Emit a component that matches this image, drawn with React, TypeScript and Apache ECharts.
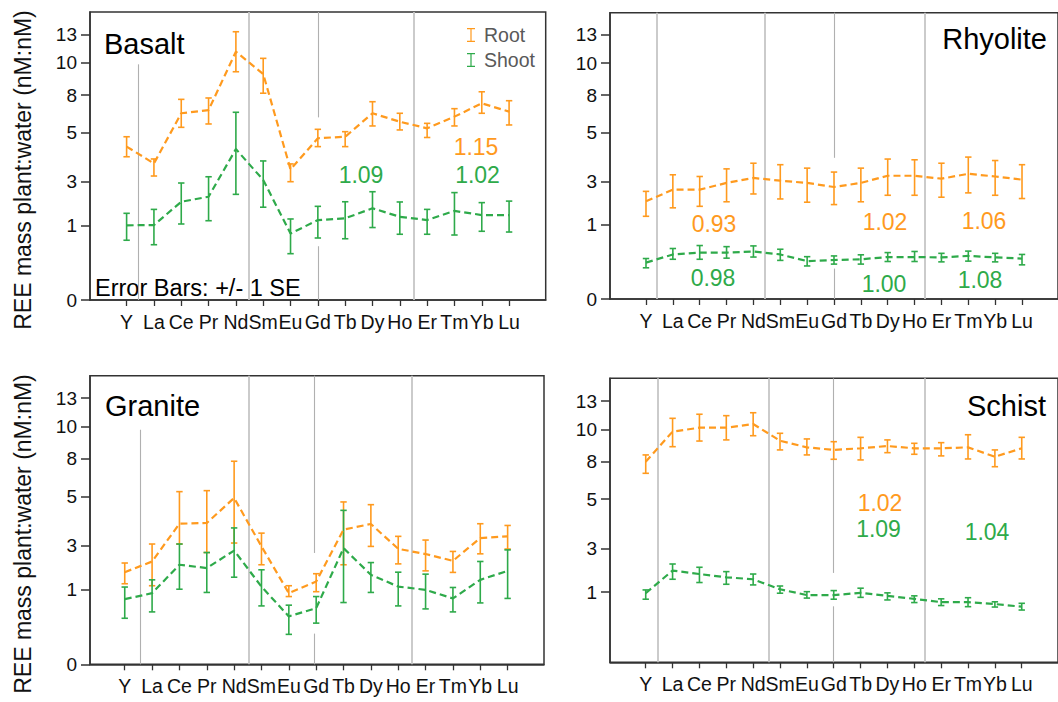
import React, { useEffect, useRef } from "react";
import * as echarts from "echarts";

// ---------- categories & axis ticks ----------
const ELEMENTS = ["Y", "La", "Ce", "Pr", "Nd", "Sm", "Eu", "Gd", "Tb", "Dy", "Ho", "Er", "Tm", "Yb", "Lu"];
const TICK_VALUES = [0, 1, 3, 5, 8, 10, 13];
// positions of the tick values on the (non-linear) y scale, in scale units
const TICK_POSITIONS = [0, 74.7, 118.3, 167.7, 205, 237.3, 265.7];

// ---------- data (ratio plant:water), mean, lower and upper bar ends ----------
const BASALT_ROOT = [4.42, 3.74, 6.53, 6.79, 11.16, 9.3, 3.5, 4.76, 4.82, 6.53, 5.85, 5.32, 6.26, 7.33, 6.66];
const BASALT_ROOT_LO = [4.01, 3.23, 5.4, 5.67, 9.44, 8.11, 3.0, 4.42, 4.42, 5.51, 5.19, 4.79, 5.51, 6.53, 5.59];
const BASALT_ROOT_HI = [4.82, 3.92, 7.65, 7.76, 13.27, 10.46, 3.72, 5.24, 5.05, 7.46, 6.53, 5.72, 6.9, 8.2, 7.54];
const BASALT_SHOOT = [1.0, 1.01, 2.08, 2.31, 4.32, 3.07, 0.89, 1.24, 1.32, 1.78, 1.39, 1.24, 1.66, 1.47, 1.47];
const BASALT_SHOOT_LO = [0.8, 0.74, 1.06, 1.21, 2.42, 1.83, 0.62, 0.83, 0.82, 0.97, 0.88, 0.88, 0.87, 0.92, 0.91];
const BASALT_SHOOT_HI = [1.55, 1.73, 2.94, 3.2, 6.61, 3.84, 1.29, 1.87, 2.08, 2.54, 2.07, 1.73, 2.5, 2.04, 2.11];

const RHYOLITE_ROOT = [2.08, 2.62, 2.62, 2.93, 3.14, 3.03, 2.93, 2.74, 2.93, 3.23, 3.23, 3.11, 3.31, 3.2, 3.07];
const RHYOLITE_ROOT_LO = [1.39, 1.78, 1.85, 2.06, 2.42, 2.19, 2.04, 1.93, 2.06, 2.36, 2.36, 2.27, 2.47, 2.36, 2.21];
const RHYOLITE_ROOT_HI = [2.54, 3.27, 3.2, 3.51, 3.74, 3.68, 3.54, 3.38, 3.54, 3.91, 3.88, 3.74, 3.99, 3.85, 3.68];
const RHYOLITE_SHOOT = [0.49, 0.6, 0.625, 0.625, 0.64, 0.6, 0.51, 0.525, 0.535, 0.565, 0.565, 0.56, 0.58, 0.56, 0.545];
const RHYOLITE_SHOOT_LO = [0.42, 0.535, 0.535, 0.55, 0.565, 0.52, 0.445, 0.47, 0.47, 0.505, 0.505, 0.5, 0.51, 0.5, 0.46];
const RHYOLITE_SHOOT_HI = [0.545, 0.68, 0.72, 0.705, 0.715, 0.67, 0.57, 0.58, 0.595, 0.625, 0.64, 0.615, 0.645, 0.615, 0.6];

const GRANITE_ROOT = [1.79, 2.28, 3.89, 3.92, 4.93, 2.97, 0.95, 1.36, 3.65, 3.88, 2.86, 2.62, 2.31, 3.31, 3.38];
const GRANITE_ROOT_LO = [1.26, 1.17, 3.07, 2.69, 3.11, 2.13, 0.905, 0.97, 2.13, 2.97, 2.17, 1.85, 1.78, 2.63, 2.85];
const GRANITE_ROOT_HI = [2.21, 3.07, 5.37, 5.45, 7.81, 3.51, 1.17, 1.72, 4.77, 4.66, 3.38, 3.23, 2.74, 3.89, 3.82];
const GRANITE_SHOOT = [0.87, 0.95, 2.13, 1.98, 2.78, 1.13, 0.64, 0.75, 2.89, 1.67, 1.13, 0.995, 0.88, 1.44, 1.85];
const GRANITE_SHOOT_LO = [0.615, 0.7, 1.01, 0.96, 1.56, 0.78, 0.4, 0.55, 0.825, 0.96, 0.78, 0.74, 0.7, 0.82, 0.88];
const GRANITE_SHOOT_HI = [1.11, 1.44, 3.07, 2.69, 3.72, 1.9, 0.79, 0.905, 4.43, 2.23, 1.79, 1.7, 1.09, 2.28, 2.81];

const SCHIST_ROOT = [8.01, 9.87, 10.2, 10.2, 10.59, 9.31, 8.9, 8.74, 8.84, 8.98, 8.84, 8.84, 8.9, 8.32, 8.84];
const SCHIST_ROOT_LO = [7.08, 8.94, 9.29, 9.36, 9.62, 8.74, 8.43, 8.16, 8.12, 8.57, 8.47, 8.37, 8.18, 7.61, 8.18];
const SCHIST_ROOT_HI = [8.43, 11.19, 11.62, 11.47, 11.78, 9.77, 9.42, 9.25, 9.52, 9.36, 9.15, 9.19, 9.68, 8.74, 9.52];
const SCHIST_SHOOT = [0.985, 1.99, 1.83, 1.68, 1.59, 1.13, 0.96, 0.96, 0.99, 0.95, 0.91, 0.865, 0.865, 0.84, 0.805];
const SCHIST_SHOOT_LO = [0.905, 1.59, 1.44, 1.36, 1.33, 0.985, 0.92, 0.905, 0.93, 0.895, 0.86, 0.82, 0.805, 0.8, 0.76];
const SCHIST_SHOOT_HI = [1.1, 2.29, 2.14, 1.94, 1.83, 1.28, 1.02, 1.07, 1.18, 0.99, 0.95, 0.91, 0.925, 0.87, 0.85];

// group separators: [x (element index), from value (null = bottom), to value (null = top)]
const BASALT_SEP = [[0.44, null, 9.9], [4.48, null, null], [7.0, null, 0.72], [7.0, 6.2, null], [10.51, null, null]];
const RHYOLITE_SEP = [[0.39, null, null], [4.43, null, null], [7.0, null, 0.41], [7.0, 3.96, null], [10.39, null, null]];
const GRANITE_SEP = [[0.56, null, 9.8], [4.52, null, null], [6.94, null, 0.41], [6.94, 2.67, null], [10.5, null, null]];
const SCHIST_SEP = [[0.43, null, null], [4.57, null, null], [7.0, null, 0.81], [7.0, 1.88, null], [10.4, null, null]];

const PANEL_NAMES = ["Basalt", "Rhyolite", "Granite", "Schist"];
const Y_AXIS_NAME = "REE mass plant:water (nM:nM)";

// ---------- styling / layout ----------
const ORANGE = "#FF9A1E";
const GREEN = "#2EAA4A";
const FONT = "'Liberation Sans', Arial, Helvetica, sans-serif";
const FRAME = "#333";

const LAYOUT = [
  { left: 90, top: 12, width: 455.7, height: 288, xMin: -1.34, xMax: 15.34, yMinValue: 0, yTop: 288, showName: true },
  { left: 610, top: 12.7, width: 455.7, height: 286.3, xMin: -1.34, xMax: 15.34, yMinValue: 0, yTop: 288, showName: false },
  { left: 90, top: 375.7, width: 454, height: 288.6, xMin: -1.27, xMax: 15.33, yMinValue: 0, yTop: 288, showName: true },
  { left: 610, top: 378.3, width: 455.7, height: 284, xMin: -1.33, xMax: 15.35, yMinValue: 0.06, yTop: 288.6, showName: false },
];

const TITLE_POS = [
  { left: 104, top: 29.5 },
  { right: 11, top: 24.5 },
  { left: 105, top: 391 },
  { right: 12, top: 391 },
];

const ANNOTATIONS = [
  { text: "1.15", x: 476, y: 147, color: ORANGE },
  { text: "1.09", x: 361, y: 175, color: GREEN },
  { text: "1.02", x: 477.5, y: 174.5, color: GREEN },
  { text: "0.93", x: 714, y: 223.5, color: ORANGE },
  { text: "0.98", x: 713, y: 277.7, color: GREEN },
  { text: "1.02", x: 885, y: 222, color: ORANGE },
  { text: "1.00", x: 884, y: 284.3, color: GREEN },
  { text: "1.06", x: 984, y: 221, color: ORANGE },
  { text: "1.08", x: 980, y: 280, color: GREEN },
  { text: "1.02", x: 880, y: 502.5, color: ORANGE },
  { text: "1.09", x: 878.5, y: 528.5, color: GREEN },
  { text: "1.04", x: 987, y: 532, color: GREEN },
];

function toAxis(v: number): number {
  const n = TICK_VALUES.length;
  for (let i = 0; i < n - 1; i++) {
    if (v <= TICK_VALUES[i + 1] || i === n - 2) {
      const t = (v - TICK_VALUES[i]) / (TICK_VALUES[i + 1] - TICK_VALUES[i]);
      return TICK_POSITIONS[i] + t * (TICK_POSITIONS[i + 1] - TICK_POSITIONS[i]);
    }
  }
  return 0;
}

const PANELS = [
  { root: [BASALT_ROOT, BASALT_ROOT_LO, BASALT_ROOT_HI], shoot: [BASALT_SHOOT, BASALT_SHOOT_LO, BASALT_SHOOT_HI], sep: BASALT_SEP },
  { root: [RHYOLITE_ROOT, RHYOLITE_ROOT_LO, RHYOLITE_ROOT_HI], shoot: [RHYOLITE_SHOOT, RHYOLITE_SHOOT_LO, RHYOLITE_SHOOT_HI], sep: RHYOLITE_SEP },
  { root: [GRANITE_ROOT, GRANITE_ROOT_LO, GRANITE_ROOT_HI], shoot: [GRANITE_SHOOT, GRANITE_SHOOT_LO, GRANITE_SHOOT_HI], sep: GRANITE_SEP },
  { root: [SCHIST_ROOT, SCHIST_ROOT_LO, SCHIST_ROOT_HI], shoot: [SCHIST_SHOOT, SCHIST_SHOOT_LO, SCHIST_SHOOT_HI], sep: SCHIST_SEP },
];

function errorBarRender(color: string) {
  return (params: any, api: any) => {
    const x = api.value(0);
    const a = api.coord([x, api.value(1)]);
    const b = api.coord([x, api.value(2)]);
    const style = { stroke: color, lineWidth: 1.6, fill: null };
    const w = 3.2;
    return {
      type: "group",
      children: [
        { type: "line", shape: { x1: a[0], y1: a[1], x2: b[0], y2: b[1] }, style },
        { type: "line", shape: { x1: a[0] - w, y1: a[1], x2: a[0] + w, y2: a[1] }, style },
        { type: "line", shape: { x1: b[0] - w, y1: b[1], x2: b[0] + w, y2: b[1] }, style },
      ],
    };
  };
}

function buildOption() {
  const series: any[] = [];
  PANELS.forEach((p, i) => {
    const lay = LAYOUT[i];
    const yMinAxis = toAxis(lay.yMinValue);
    const sepData = p.sep.map(([x, from, to]: any) => {
      if (from === null && to === null) {
        return { xAxis: x, lineStyle: { color: "#c6c6c6", width: 1.8, type: "solid" } };
      }
      return [
        { coord: [x, from === null ? yMinAxis : toAxis(from)], lineStyle: { color: "#b0b0b0", width: 1.1, type: "solid" } },
        { coord: [x, to === null ? lay.yTop : toAxis(to)] },
      ];
    });
    const groups: [string, string, number[][]][] = [
      ["Root", ORANGE, p.root],
      ["Shoot", GREEN, p.shoot],
    ];
    groups.forEach(([name, color, arr], k) => {
      const [mean, lo, hi] = arr;
      series.push({
        type: "custom",
        name,
        xAxisIndex: i,
        yAxisIndex: i,
        color,
        renderItem: errorBarRender(color),
        encode: { x: 0, y: [1, 2] },
        data: lo.map((l, j) => [j, toAxis(l), toAxis(hi[j])]),
        z: 3,
        silent: true,
      });
      series.push({
        type: "line",
        name,
        xAxisIndex: i,
        yAxisIndex: i,
        color,
        symbol: "none",
        lineStyle: { color, width: 2.2, type: [7, 4] },
        data: mean.map((v, j) => [j, toAxis(v)]),
        z: 4,
        silent: true,
        markLine:
          k === 0
            ? { silent: true, symbol: ["none", "none"], label: { show: false }, data: sepData, z: 1 }
            : undefined,
      });
    });
  });

  return {
    animation: false,
    textStyle: { fontFamily: FONT },
    title: PANEL_NAMES.map((t, i) => ({
      text: t,
      ...TITLE_POS[i],
      padding: 0,
      textStyle: { fontSize: 29, fontWeight: "normal", color: "#000", fontFamily: FONT },
    })),
    legend: {
      data: ["Root", "Shoot"],
      orient: "vertical",
      left: 467,
      top: 25,
      itemWidth: 8,
      itemHeight: 14,
      itemGap: 5,
      padding: 0,
      icon: "path://M0,0L8,0L8,1.2L4.6,1.2L4.6,12.8L8,12.8L8,14L0,14L0,12.8L3.4,12.8L3.4,1.2L0,1.2Z",
      selectedMode: false,
      textStyle: { fontSize: 19.5, color: "#595959", lineHeight: 20, padding: [0, 0, 0, 4], fontFamily: FONT },
    },
    grid: LAYOUT.map((g) => ({
      left: g.left,
      top: g.top,
      width: g.width,
      height: g.height,
      show: true,
      borderColor: FRAME,
      borderWidth: 1.5,
      backgroundColor: "transparent",
    })),
    xAxis: LAYOUT.map((g, i) => ({
      type: "value",
      gridIndex: i,
      min: g.xMin,
      max: g.xMax,
      axisLine: { show: true, onZero: false, lineStyle: { color: FRAME, width: 1.5 } },
      splitLine: { show: false },
      axisTick: {
        show: true,
        length: 6,
        customValues: ELEMENTS.map((_, j) => j),
        lineStyle: { color: FRAME, width: 1.3 },
      },
      axisLabel: {
        customValues: ELEMENTS.map((_, j) => j),
        formatter: (v: number) => ELEMENTS[Math.round(v)] ?? "",
        fontSize: 19.5,
        color: "#111",
        margin: 12,
        fontFamily: FONT,
      },
    })),
    yAxis: LAYOUT.map((g, i) => {
      const yMin = toAxis(g.yMinValue);
      const shown = TICK_VALUES.filter((v) => toAxis(v) >= yMin - 1e-6);
      const positions = shown.map(toAxis);
      return {
        type: "value",
        gridIndex: i,
        min: yMin,
        max: g.yTop,
        name: g.showName ? Y_AXIS_NAME : "",
        nameLocation: "middle",
        nameRotate: 90,
        nameGap: 56,
        nameTextStyle: { fontSize: 23, color: "#111", fontFamily: FONT, padding: [0, 28, 0, 0] },
        axisLine: { show: true, onZero: false, lineStyle: { color: FRAME, width: 1.5 } },
        splitLine: { show: false },
        axisTick: { show: true, length: 9, customValues: positions, lineStyle: { color: FRAME, width: 1.5 } },
        axisLabel: {
          customValues: positions,
          formatter: (v: number) => {
            const k = positions.findIndex((u) => Math.abs(u - v) < 1e-3);
            return k >= 0 ? String(shown[k]) : "";
          },
          fontSize: 19,
          color: "#111",
          margin: 13,
          fontFamily: FONT,
        },
      };
    }),
    graphic: [
      ...ANNOTATIONS.map((a) => ({
        type: "text",
        x: a.x,
        y: a.y,
        silent: true,
        style: { text: a.text, fill: a.color, fontSize: 23, fontFamily: FONT, textAlign: "center", textVerticalAlign: "middle" },
      })),
      {
        type: "text",
        x: 95,
        y: 287.5,
        silent: true,
        style: { text: "Error Bars: +/- 1 SE", fill: "#000", fontSize: 23.5, fontFamily: FONT, textAlign: "left", textVerticalAlign: "middle" },
      },
    ],
    series,
  };
}

export default function App() {
  const ref = useRef<HTMLDivElement>(null);
  useEffect(() => {
    if (!ref.current) return;
    const chart = echarts.init(ref.current, undefined, { renderer: "svg" });
    chart.setOption(buildOption() as any);
    return () => chart.dispose();
  }, []);
  return (
    <div
      ref={ref}
      style={{ position: "fixed", left: 0, top: 0, width: 1058, height: 702, background: "#fff" }}
    />
  );
}
